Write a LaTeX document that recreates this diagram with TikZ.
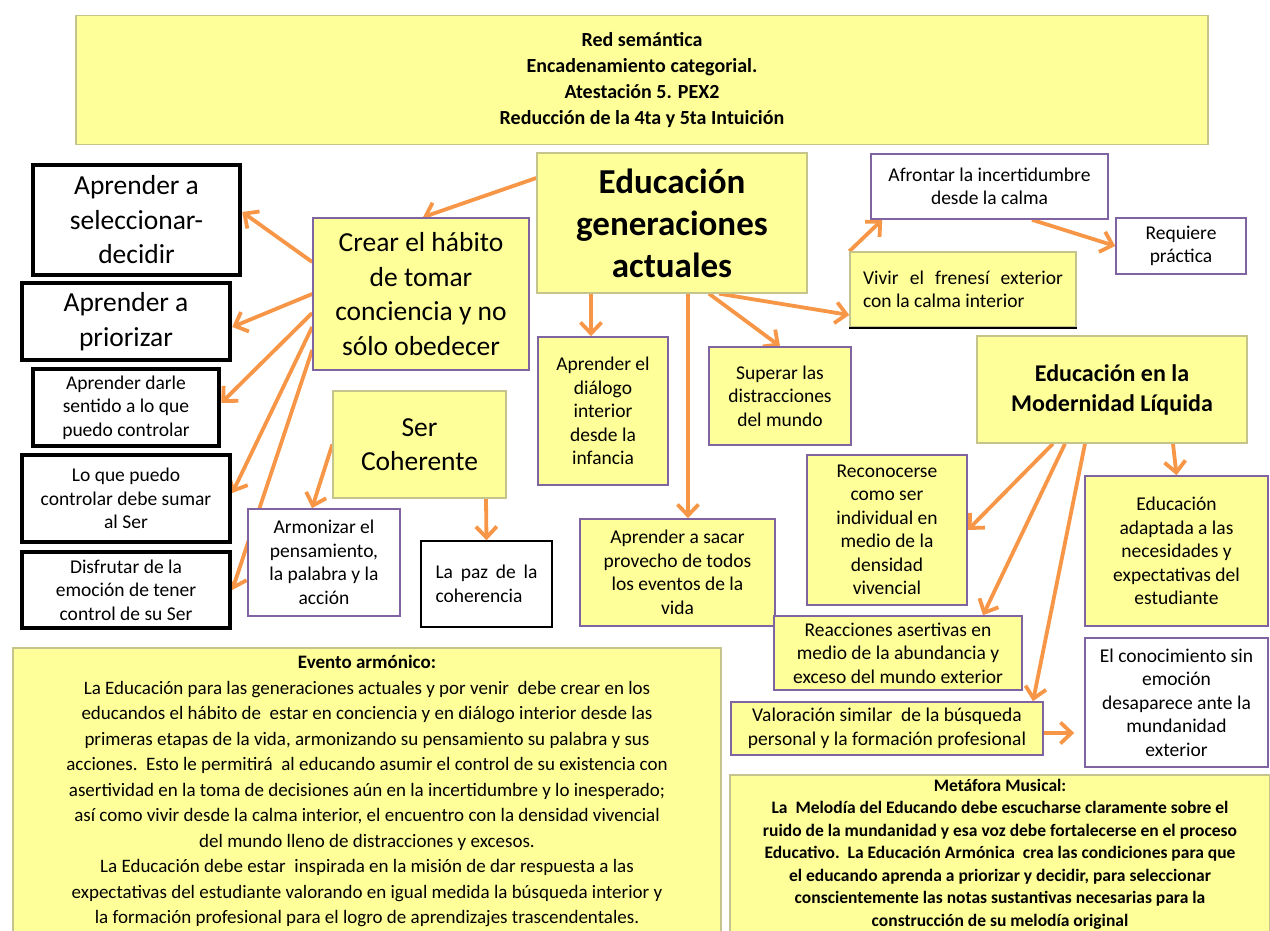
\documentclass[tikz,border=0pt]{standalone}
\usepackage{fontspec}
\setmainfont{Carlito}
\usetikzlibrary{arrows.meta}
\pgfdeclarelayer{back}
\pgfsetlayers{back,main}
\definecolor{yfill}{RGB}{255,255,153}
\definecolor{purp}{RGB}{128,100,162}
\definecolor{orng}{RGB}{247,150,70}
\definecolor{shd}{RGB}{196,196,140}

\begin{document}
\begin{tikzpicture}[x=1pt,y=1pt,
    link/.style={-{Straight Barb[length=11pt,width=21pt]},draw=orng,line width=3.8pt},
    box/.style={rectangle,align=center,inner sep=2pt},
    sz/.style 2 args={minimum width=#1pt,minimum height=#2pt},
    ylw/.style={box,fill=yfill,draw=purp,line width=1.6pt},
    ysh/.style={box,fill=yfill,draw=shd,line width=1.4pt},
    wht/.style={box,fill=white,draw=purp,line width=1.6pt},
    blk/.style={box,fill=white,draw=black,line width=4.5pt},
    fbig/.style={font=\bfseries\fontsize{35}{42}\selectfont},
    fmid/.style={font=\fontsize{27.5}{34.5}\selectfont},
    fsm/.style={font=\fontsize{19.5}{23.5}\selectfont},
    fhead/.style={font=\bfseries\fontsize{24}{30}\selectfont},
    ftitle/.style={font=\bfseries\fontsize{20}{26}\selectfont},
    ftext/.style={font=\fontsize{19}{25.5}\selectfont},
    fmusic/.style={font=\bfseries\fontsize{17.5}{22.5}\selectfont}]

  \useasboundingbox (0,0) rectangle (1270,-931);

  % cabecera
  \node[ysh,sz={1132}{129},ftitle] (title) at (642,-80)
    {Red semántica\\Encadenamiento categorial.\\Atestación 5. PEX2\\Reducción de la 4ta y 5ta Intuición};

  % nodo central y primer nivel
  \node[ysh,sz={270}{140},fbig] (edu) at (672,-223) {Educación\\generaciones\\actuales};
  \node[ylw,sz={216}{152},fmid] (crear) at (421,-294) {Crear el hábito\\de tomar\\conciencia y no\\sólo obedecer};
  \node[ysh,sz={173}{107},fmid] (ser) at (419.5,-444.5) {Ser\\Coherente};

  % columna izquierda
  \node[blk,sz={207}{110},fmid] (selec) at (136.5,-220) {Aprender a\\seleccionar-\\decidir};
  \node[blk,sz={208}{77},fmid] (prior) at (126,-321.5) {Aprender a\\priorizar};
  \node[blk,sz={186}{77},fsm] (sentido) at (126,-407.5) {Aprender darle\\sentido a lo que\\puedo controlar};
  \node[blk,sz={208}{87},fsm] (sumar) at (126,-498.5) {Lo que puedo\\controlar debe sumar\\al Ser};
  \node[blk,sz={208}{76},fsm] (disfr) at (126,-590) {Disfrutar de la\\emoción de tener\\control de su Ser};

  \node[wht,sz={152}{107},fsm] (armon) at (324,-562.5) {Armonizar el\\pensamiento,\\la palabra y la\\acción};
  \node[box,fill=white,draw=black,line width=1.4pt,sz={131}{86},fsm,align=left] (paz) at (486.5,-584)
    {\makebox[102pt][s]{La paz de la}\\coherencia};

  % debajo del nodo central
  \node[ylw,sz={130}{148},fsm] (dialogo) at (603,-411) {Aprender el\\diálogo\\interior\\desde la\\infancia};
  \node[ylw,sz={142}{98},fsm] (superar) at (780,-396) {Superar las\\distracciones\\del mundo};
  \node[ylw,sz={195}{107},fsm] (sacar) at (677.5,-572.5) {Aprender a sacar\\provecho de todos\\los eventos de la\\vida};

  % arriba a la derecha
  \node[wht,sz={237}{65},fsm] (afront) at (989.5,-186.5) {Afrontar la incertidumbre\\desde la calma};
  \node[wht,sz={130}{56},fsm] (requiere) at (1181,-246) {Requiere\\práctica};
  \node[ysh,sz={226}{75},fsm,align=left] (vivir) at (963,-289.5)
    {\makebox[200pt][s]{Vivir el frenesí exterior}\\con la calma interior};
  \draw[line width=2pt] (vivir.south west) -- (vivir.south east);

  % modernidad liquida
  \node[ysh,sz={270}{107},fhead] (moder) at (1112,-389.5) {Educación en la\\Modernidad Líquida};
  \node[ylw,sz={160}{150},fsm] (recon) at (887,-530) {Reconocerse\\como ser\\individual en\\medio de la\\densidad\\vivencial};
  \node[ylw,sz={183}{150},fsm] (adapt) at (1176.5,-551) {Educación\\adaptada a las\\necesidades y\\expectativas del\\estudiante};
  \node[ylw,sz={248}{74},fsm] (reacc) at (898,-653) {Reacciones asertivas en\\medio de la abundancia y\\exceso del mundo exterior};
  \node[ylw,sz={312}{53},fsm] (valor) at (887,-728.5) {Valoración similar\ \ de la búsqueda\\personal y la formación profesional};
  \node[wht,sz={183}{129},fsm] (conoc) at (1176.5,-702.5) {El conocimiento sin\\emoción\\desaparece ante la\\mundanidad\\exterior};

  % cuadros de texto
  \node[ysh,sz={708}{286},ftext] (evento) at (367,-791)
    {\textbf{Evento armónico:}\\
     La Educación para las generaciones actuales y por venir\ \ debe crear en los\\
     educandos el hábito de\ \ estar en conciencia y en diálogo interior desde las\\
     primeras etapas de la vida, armonizando su pensamiento su palabra y sus\\
     acciones.\ \ Esto le permitirá\ \ al educando asumir el control de su existencia con\\
     asertividad en la toma de decisiones aún en la incertidumbre y lo inesperado;\\
     así como vivir desde la calma interior, el encuentro con la densidad vivencial\\
     del mundo lleno de distracciones y excesos.\\
     La Educación debe estar\ \ inspirada en la misión de dar respuesta a las\\
     expectativas del estudiante valorando en igual medida la búsqueda interior y\\
     la formación profesional para el logro de aprendizajes trascendentales.};
  \node[ysh,sz={540}{158},fmusic] (metaf) at (1000,-854)
    {Metáfora Musical:\\
     La\ \ Melodía del Educando debe escucharse claramente sobre el\\
     ruido de la mundanidad y esa voz debe fortalecerse en el proceso\\
     Educativo.\ \ La Educación Armónica\ \ crea las condiciones para que\\
     el educando aprenda a priorizar y decidir, para seleccionar\\
     conscientemente las notas sustantivas necesarias para la\\
     construcción de su melodía original};

  % flechas
  \begin{pgfonlayer}{back}
  \draw[link] ([yshift=45pt]edu.west) -- ([xshift=2pt]crear.north);
  \draw[link] ([yshift=32pt]crear.west) -- ([yshift=8pt]selec.east);
  \draw[link] (crear.west) -- ([yshift=-5.5pt]prior.east);
  \draw[link] ([yshift=-19pt]crear.west) -- ([yshift=4.5pt]sentido.east);
  \draw[link] ([yshift=-33pt]crear.west) -- ([yshift=5.5pt]sumar.east);
  \draw[link] ([yshift=-56pt]crear.west) -- (disfr.east);
  \draw[link] (ser.west) -- ([xshift=-12pt]armon.north);
  \draw[link] ([xshift=66.5pt]ser.south) -- (paz.north);
  \draw[link] ([xshift=-81pt]edu.south) -- ([xshift=-12pt]dialogo.north);
  \draw[link] ([xshift=16pt]edu.south) -- ([xshift=10.5pt]sacar.north);
  \draw[link] ([xshift=37pt]edu.south) -- (superar.north);
  \draw[link] ([xshift=47pt]edu.south) -- ([yshift=-25.5pt]vivir.west);
  \draw[link] (vivir.north west) -- ([xshift=12pt]afront.south west);
  \draw[link] ([xshift=42.5pt]afront.south) -- (requiere.west);
  \draw[link] ([xshift=-59pt]moder.south) -- (recon.east);
  \draw[link] ([xshift=-47pt]moder.south) -- ([xshift=85pt]reacc.north);
  \draw[link] ([xshift=-27pt]moder.south) -- ([xshift=146pt]valor.north);
  \draw[link] ([xshift=61pt]moder.south) -- (adapt.north);
  \draw[link] ([yshift=-4.5pt]valor.east) -- ([xshift=-10pt,yshift=-30.5pt]conoc.west);
  \end{pgfonlayer}
\end{tikzpicture}
\end{document}
